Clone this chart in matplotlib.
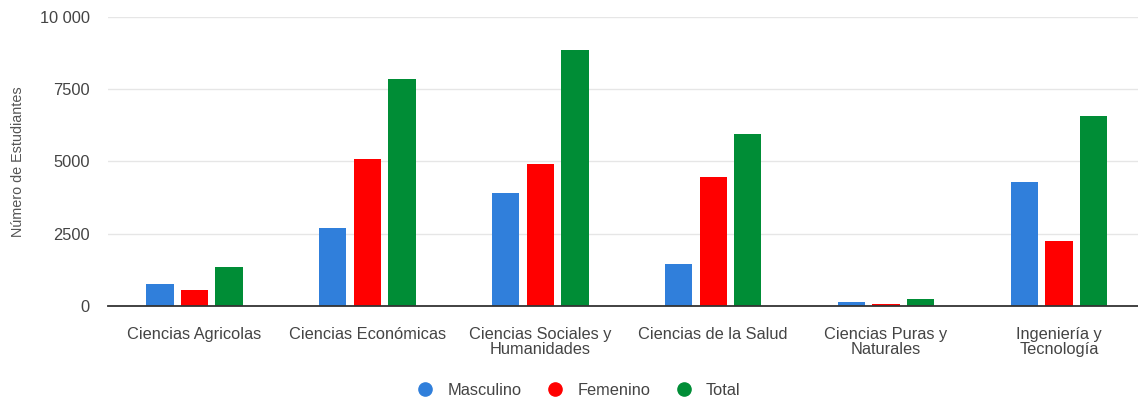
import numpy as np
import matplotlib.pyplot as plt
from matplotlib.lines import Line2D

plt.rcParams['font.family'] = ['Liberation Sans', 'DejaVu Sans']

# Datos por área de conocimiento
areas = ["Ciencias Agricolas", "Ciencias Económicas", "Ciencias Sociales y\nHumanidades",
         "Ciencias de la Salud", "Ciencias Puras y\nNaturales", "Ingeniería y\nTecnología"]
masculino = [768, 2710, 3890, 1440, 127, 4280]
femenino = [539, 5070, 4910, 4450, 81, 2250]
total = [1330, 7846, 8836, 5956, 254, 6580]

series = ["Masculino", "Femenino", "Total"]
colores = ["#307fdb", "#ff0000", "#008d36"]
yticks = [0, 2500, 5000, 7500, 10000]
ytick_labels = ["0", "2500", "5000", "7500", "10 000"]

fig = plt.figure(figsize=(11.38, 3.97), dpi=100)
ax = fig.add_axes([108 / 1138, 91 / 397, 1 - 108 / 1138, 289.5 / 397])

x = np.arange(len(areas))
ancho = 0.158
paso = 0.2
for i, (valores, color) in enumerate(zip([masculino, femenino, total], colores)):
    ax.bar(x + (i - 1) * paso, valores, width=ancho, color=color, zorder=3)

ax.set_xlim(-0.5, 5.5 - 7.5 / 173)
ax.set_ylim(0, 10000)
ax.set_yticks(yticks)
ax.set_yticklabels(ytick_labels)
ax.set_xticks(x)
ax.set_xticklabels(areas, linespacing=1.05)
ax.tick_params(axis='both', length=0, labelsize=11.8, labelcolor='#444444')
ax.tick_params(axis='x', pad=15)
ax.tick_params(axis='y', pad=13)
ax.grid(axis='y', color='#e6e6e6', linewidth=1, zorder=0)
for s in ['top', 'right', 'left']:
    ax.spines[s].set_visible(False)
ax.spines['bottom'].set_color('#333333')
ax.spines['bottom'].set_linewidth(1.3)
ax.spines['bottom'].set_zorder(4)

fig.text(18 / 1138, 1 - 162 / 397, "Número de Estudiantes", rotation=90,
         ha='center', va='center', fontsize=10.4, color='#555555')

handles = [Line2D([], [], marker='o', linestyle='', markersize=9.5, color=c) for c in colores]
fig.legend(handles, series, loc='lower center', bbox_to_anchor=(0.505, -0.04), ncol=3,
           frameon=False, fontsize=11.8, handletextpad=0.35, columnspacing=1.05,
           labelcolor='#444444')

fig.savefig('out.png', dpi=100)
